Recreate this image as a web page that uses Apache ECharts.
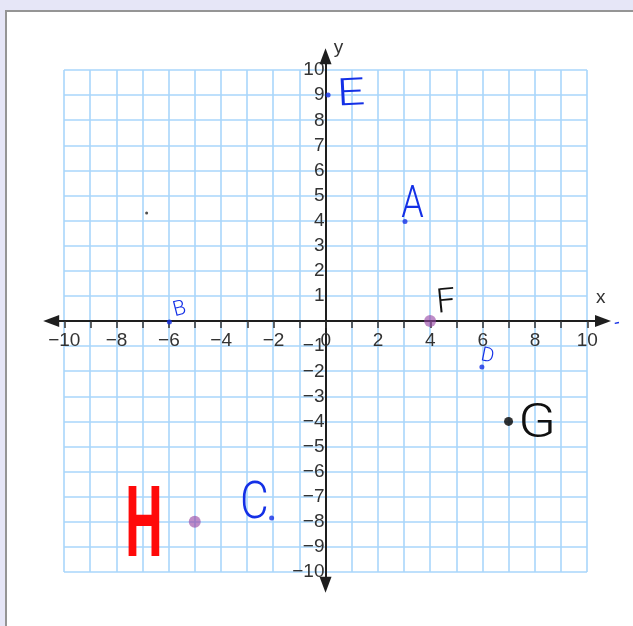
<!DOCTYPE html>
<html lang="en">
<head>
    <meta charset="utf-8">
    <title>Coordinate plane</title>
    <script src="https://cdn.jsdelivr.net/npm/echarts@6/dist/echarts.min.js"></script>
    <style>
        html, body { margin: 0; padding: 0; }
        body { width: 633px; height: 626px; background: #e6e6f7; position: relative; overflow: hidden; }
        #paper { position: absolute; left: 5px; top: 10px; right: 0; bottom: 0; background: #fff;
                 border-left: 2px solid #959595; border-top: 2px solid #959595; }
        #plane { position: absolute; left: 0; top: 0; width: 633px; height: 626px; }
    </style>
</head>
<body>
<div id="paper"></div>
<div id="plane"></div>
<script>
    // ticks and labels
    var tickValues = [-10,-9,-8,-7,-6,-5,-4,-3,-2,-1,0,1,2,3,4,5,6,7,8,9,10];
    var xLabelValues = [-10,-8,-6,-4,-2,0,2,4,6,8,10];
    var yLabelValues = [-10,-9,-8,-7,-6,-5,-4,-3,-2,-1,1,2,3,4,5,6,7,8,9,10];

    // plotted points
    var purplePoints = [[4, 0], [-5, -8]];
    var blackPoints = [[7, -4]];
    var strayDot = [[-6.84, 4.3]];
    // pen dots next to the handwritten letters
    var penDots = [[3.04, 3.96], [-5.97, -0.04], [-2.06, -7.85], [5.98, -1.83], [0.1, 9.0]];

    // handwritten letters
    var noteText = ['A', 'B', 'C', 'D', 'E', 'F', 'G', 'H', '-'];
    var noteX = [3.33, -5.58, -2.72, 6.19, 0.98, 4.61, 8.09, -6.94, 11.15];
    var noteY = [4.78, 0.54, -7.11, -1.33, 9.14, 0.84, -3.94, -8.01, -0.04];

    var blue = '#1430e6';
    var noteStyle = {
        A: {color: blue, size: 45, sx: 0.8, rot: 0, weight: 300},
        B: {color: blue, size: 21, sx: 1, rot: 0.25, weight: 300},
        C: {color: blue, size: 52, sx: 0.85, rot: 0, weight: 300},
        D: {color: blue, size: 20, sx: 1, rot: -0.2, weight: 300},
        E: {color: blue, size: 38, sx: 1.3, rot: 0.05, weight: 300},
        F: {color: '#111', size: 34, sx: 1, rot: 0.1, weight: 300},
        G: {color: '#111', size: 48, sx: 1.15, rot: 0, weight: 300},
        H: {color: '#ff0a0a', size: 98, sx: 0.54, rot: 0, weight: 'bold'},
        '-': {color: blue, size: 18, sx: 1, rot: 0.2, weight: 400}
    };

    var chartDom = document.getElementById('plane');
    var myChart = echarts.init(chartDom, null, {renderer: 'canvas'});
    var option;

    var gridColor = '#a9d6fb';
    var axisColor = '#1e1e1e';
    var labelFont = 'Liberation Sans';

    // axes grid (grid 1) box, origin sits at (325.5, 321)
    var axLeft = 51.2, axTop = 56.3, axWidth = 551.8, axHeight = 528.4;
    var originX = 325.5, originY = 321;

    function xy(xs, ys) {
        var out = [];
        for (var i = 0; i < xs.length; i++) out.push([xs[i], ys[i]]);
        return out;
    }
    // real minus sign on negative labels
    function minusLabel(v) {
        return String(v).replace('-', '\u2212');
    }

    option = {
        animation: false,
        backgroundColor: 'transparent',
        grid: [
            // blue paper grid
            {left: 64, top: 70, width: 523, height: 502},
            // axes with arrows, wider than the grid
            {left: axLeft, top: axTop, width: axWidth, height: axHeight}
        ],
        xAxis: [
            {
                gridIndex: 0, type: 'value', min: -10, max: 10, interval: 1,
                axisLine: {show: false}, axisTick: {show: false}, axisLabel: {show: false},
                splitLine: {show: true, lineStyle: {color: gridColor, width: 1.6}}
            },
            {
                gridIndex: 1, type: 'value', min: -10.5, max: 10.6,
                position: 'bottom', offset: -(axTop + axHeight - originY),
                name: 'x', nameLocation: 'end', nameGap: -7,
                nameTextStyle: {fontFamily: labelFont, fontSize: 19, color: '#333',
                    verticalAlign: 'bottom', padding: [0, 0, 14, 0]},
                axisLine: {onZero: false, symbol: ['triangle', 'triangle'], symbolSize: [12, 16],
                    lineStyle: {color: axisColor, width: 2}},
                axisTick: {show: true, length: 7, customValues: tickValues,
                    lineStyle: {color: '#333', width: 1.5}},
                axisLabel: {show: true, customValues: xLabelValues, margin: 10,
                    formatter: minusLabel,
                    fontFamily: labelFont, fontSize: 19, color: '#333'},
                splitLine: {show: false}
            }
        ],
        yAxis: [
            {
                gridIndex: 0, type: 'value', min: -10, max: 10, interval: 1,
                axisLine: {show: false}, axisTick: {show: false}, axisLabel: {show: false},
                splitLine: {show: true, lineStyle: {color: gridColor, width: 1.6}}
            },
            {
                gridIndex: 1, type: 'value', min: -10.5, max: 10.55,
                position: 'left', offset: -(originX - axLeft),
                name: 'y', nameLocation: 'end', nameGap: -1,
                nameTextStyle: {fontFamily: labelFont, fontSize: 19, color: '#333',
                    padding: [0, 0, 0, 26]},
                axisLine: {onZero: false, symbol: ['triangle', 'triangle'], symbolSize: [12, 16],
                    lineStyle: {color: axisColor, width: 2}},
                axisTick: {show: false},
                axisLabel: {show: true, customValues: yLabelValues, margin: 1,
                    formatter: minusLabel,
                    fontFamily: labelFont, fontSize: 19, color: '#333'},
                splitLine: {show: false}
            }
        ],
        series: [
            {
                name: 'plotted', type: 'scatter', xAxisIndex: 0, yAxisIndex: 0,
                symbolSize: 12, z: 5,
                itemStyle: {color: 'rgba(150, 70, 165, 0.78)'},
                data: purplePoints
            },
            {
                name: 'black', type: 'scatter', xAxisIndex: 0, yAxisIndex: 0,
                symbolSize: 9, z: 5,
                itemStyle: {color: '#000'},
                data: blackPoints
            },
            {
                name: 'stray', type: 'scatter', xAxisIndex: 0, yAxisIndex: 0,
                symbolSize: 3, z: 5,
                itemStyle: {color: '#222'},
                data: strayDot
            },
            {
                name: 'pen', type: 'scatter', xAxisIndex: 0, yAxisIndex: 0,
                symbolSize: 5, z: 5,
                itemStyle: {color: blue},
                data: penDots
            },
            {
                name: 'notes', type: 'custom', xAxisIndex: 0, yAxisIndex: 0, z: 6,
                clip: false,
                renderItem: function (params, api) {
                    var t = noteText[params.dataIndex];
                    var st = noteStyle[t];
                    var p = api.coord([api.value(0), api.value(1)]);
                    return {
                        type: 'text',
                        x: p[0], y: p[1] + st.size * 0.1,
                        scaleX: st.sx,
                        rotation: st.rot,
                        style: {
                            text: t,
                            fill: st.color,
                            fontFamily: 'Roboto',
                            fontWeight: st.weight,
                            fontSize: st.size,
                            align: 'center',
                            verticalAlign: 'middle'
                        }
                    };
                },
                data: xy(noteX, noteY)
            }
        ]
    };

    myChart.setOption(option);
    window.onresize = myChart.resize;
</script>
</body>
</html>
